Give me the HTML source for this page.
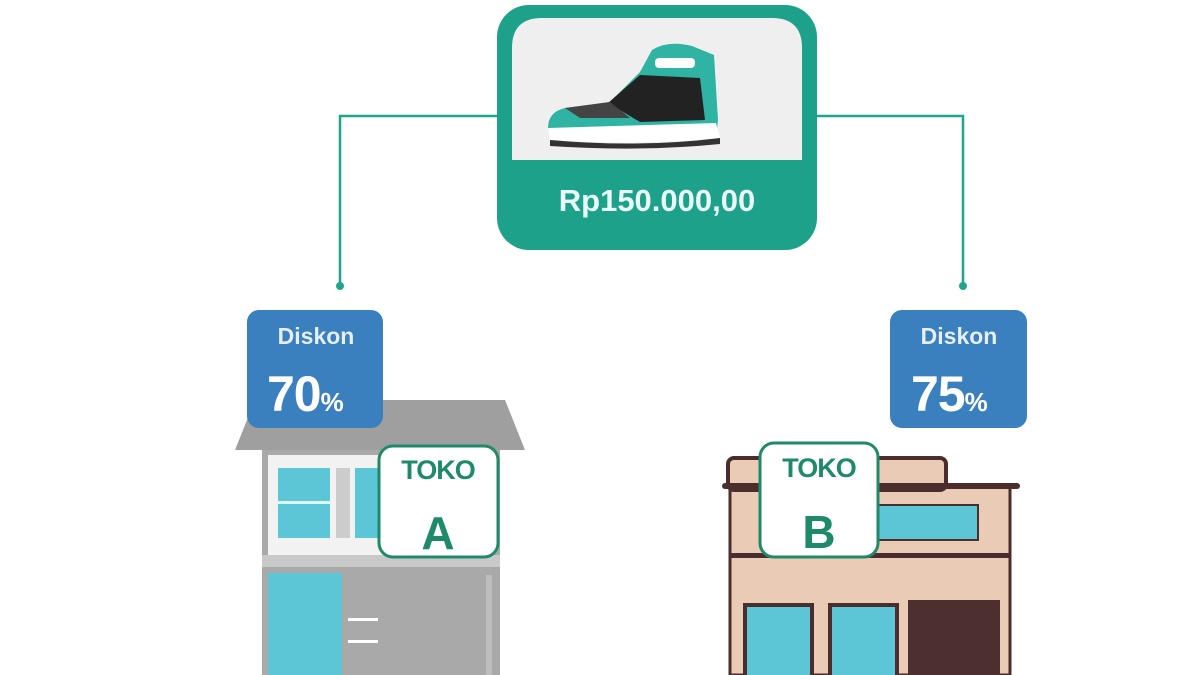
<!DOCTYPE html>
<html><head><meta charset="utf-8"><style>
html,body{margin:0;padding:0;background:#fff;width:1200px;height:675px;overflow:hidden}
svg text{font-family:"Liberation Sans",sans-serif;font-weight:bold}
</style></head><body>
<svg width="1200" height="675" viewBox="0 0 1200 675" xmlns="http://www.w3.org/2000/svg">
<!-- connectors -->
<path d="M497 116 H340 V285" fill="none" stroke="#1fa58d" stroke-width="2.5"/>
<path d="M817 116 H963 V285" fill="none" stroke="#1fa58d" stroke-width="2.5"/>
<circle cx="340" cy="286" r="4" fill="#1fa58d"/>
<circle cx="963" cy="286" r="4" fill="#1fa58d"/>
<!-- top box -->
<rect x="497" y="5" width="320" height="245" rx="32" fill="#1ea18b"/>
<path d="M512 48 Q512 18 542 18 H772 Q802 18 802 48 V160 H512 Z" fill="#efefef"/>
<text x="657" y="211" font-size="31" fill="#eafbf7" text-anchor="middle">Rp150.000,00</text>
<!-- shoe -->
<path d="M548 128 Q548 112 565 108 L610 102 L640 72 L652 50 Q668 40 692 46 L714 55 L718 120 L716 138 Q650 145 552 140 Z" fill="#2fb3a3"/>
<path d="M608 103 L640 75 L700 78 L705 120 L640 122 Z" fill="#222"/>
<path d="M565 108 L610 102 L630 118 L580 118 Z" fill="#444"/>
<path d="M548 128 L716 123 L720 138 Q640 146 550 140 Z" fill="#fff"/>
<path d="M550 140 Q640 148 720 138 L720 144 Q640 152 550 146 Z" fill="#333"/>
<rect x="655" y="58" width="40" height="10" rx="4" fill="#fff"/>
<!-- left building -->
<rect x="262" y="440" width="238" height="235" fill="#a9a9a9"/>
<rect x="268" y="455" width="226" height="100" fill="#f2f2f2"/>
<rect x="278" y="468" width="52" height="70" fill="#5cc6d6"/>
<rect x="278" y="501" width="52" height="3" fill="#dff"/>
<rect x="355" y="468" width="25" height="70" fill="#5cc6d6"/>
<rect x="336" y="468" width="14" height="70" fill="#ccc"/>
<rect x="262" y="555" width="238" height="12" fill="#c9c9c9"/>
<rect x="268" y="573" width="74" height="102" fill="#5cc6d6"/>
<rect x="348" y="618" width="30" height="3" fill="#fff"/>
<rect x="348" y="640" width="30" height="3" fill="#fff"/>
<rect x="486" y="575" width="6" height="100" fill="#bdbdbd"/>
<polygon points="255,400 505,400 525,450 235,450" fill="#9f9f9f"/>
<!-- diskon left -->
<rect x="247" y="310" width="136" height="118" rx="12" fill="#3a7fbe"/>
<text x="316" y="344" font-size="23" fill="#e6eef6" text-anchor="middle">Diskon</text>
<text x="267" y="411" font-size="50" fill="#fff" letter-spacing="-1">70<tspan font-size="26">%</tspan></text>
<!-- toko A -->
<rect x="379" y="446" width="119" height="111" rx="14" fill="#fff" stroke="#1f8a6a" stroke-width="3"/>
<text x="438" y="479" font-size="27" fill="#1f8a6a" text-anchor="middle" letter-spacing="-1">TOKO</text>
<text x="438" y="549" font-size="46" fill="#1f8a6a" text-anchor="middle">A</text>
<!-- right building -->
<rect x="730" y="485" width="280" height="190" fill="#eacbb6" stroke="#4b2d2d" stroke-width="3"/>
<rect x="728" y="458" width="218" height="32" rx="6" fill="#eacbb6" stroke="#4b2d2d" stroke-width="4"/>
<rect x="722" y="483" width="298" height="6" rx="3" fill="#4b2d2d"/>
<rect x="878" y="505" width="100" height="35" fill="#5cc6d6" stroke="#4b2d2d" stroke-width="2"/>
<rect x="730" y="553" width="280" height="5" fill="#4b2d2d"/>
<rect x="745" y="605" width="67" height="75" fill="#5cc6d6" stroke="#4b2d2d" stroke-width="4"/>
<rect x="830" y="605" width="67" height="75" fill="#5cc6d6" stroke="#4b2d2d" stroke-width="4"/>
<rect x="908" y="600" width="92" height="75" fill="#4d2f30"/>
<!-- diskon right -->
<rect x="890" y="310" width="137" height="118" rx="12" fill="#3a7fbe"/>
<text x="959" y="344" font-size="23" fill="#e6eef6" text-anchor="middle">Diskon</text>
<text x="911" y="411" font-size="50" fill="#fff" letter-spacing="-1">75<tspan font-size="26">%</tspan></text>
<!-- toko B -->
<rect x="760" y="443" width="118" height="114" rx="14" fill="#fff" stroke="#1f8a6a" stroke-width="3"/>
<text x="819" y="477" font-size="27" fill="#1f8a6a" text-anchor="middle" letter-spacing="-1">TOKO</text>
<text x="819" y="548" font-size="46" fill="#1f8a6a" text-anchor="middle">B</text>
</svg>
</body></html>
